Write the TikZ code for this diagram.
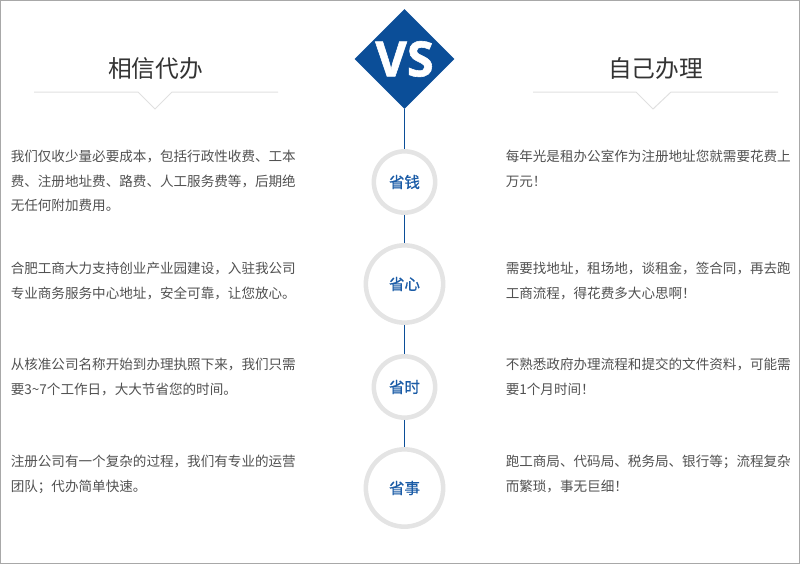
\documentclass[tikz,border=0pt]{standalone}
\usepackage{fontspec}
\setmainfont{Noto Sans CJK SC}
\newfontfamily\vsfont[BoldFeatures={FakeBold=1.2}]{Open Sans}
\newfontfamily\ringfont[FakeBold=0.6]{Noto Sans CJK SC}
\usetikzlibrary{shapes.geometric}
\definecolor{vsblue}{HTML}{0B4E98}
\definecolor{ringblue}{HTML}{1A5BA6}
\definecolor{ringgray}{HTML}{E4E4E4}
\definecolor{rulegray}{HTML}{E0E0E0}
\definecolor{framegray}{HTML}{A8A8A8}
\definecolor{bodygray}{HTML}{505050}
\definecolor{titlegray}{HTML}{333333}
\newcommand\ringtext[1]{\raisebox{-0.7pt}{#1}}
\tikzset{
  bodytext/.style={anchor=north west, inner sep=0pt, align=left, text=bodygray, font=\fontsize{10.18pt}{18.4pt}\selectfont},
  titletext/.style={inner sep=0pt, text=titlegray, font=\fontsize{17.8pt}{22pt}\selectfont},
  smallring/.style={circle, draw=ringgray, line width=3.4pt, minimum size=46pt, inner sep=0pt, text=ringblue, font=\ringfont\fontsize{11.6pt}{14pt}\selectfont},
  bigring/.style={smallring, minimum size=58pt},
  vsline/.style={vsblue, line width=0.9pt},
  titlerule/.style={rulegray, line width=0.75pt}
}

\begin{document}
\begin{tikzpicture}[x=0.75pt, y=-0.75pt]
\useasboundingbox (0,0) rectangle (800,564);
\draw[framegray, line width=0.75pt] (0.5,0.5) rectangle (799.5,563.5);

\node[diamond, fill=vsblue, minimum size=75pt, aspect=1, inner sep=0pt, text=white, font=\vsfont\fontsize{36.5pt}{37pt}\selectfont\bfseries] (vs) at (404.5,59) {\raisebox{-0.8pt}{VS}};
\node[smallring] (qian) at (404.5,182) {\ringtext{省钱}};
\node[bigring] (xin) at (404.5,284) {\ringtext{省心}};
\node[smallring] (shi) at (404.5,387) {\ringtext{省时}};
\node[bigring] (shiqing) at (404.5,488) {\ringtext{省事}};

\draw[vsline] (vs) -- (qian);
\draw[vsline] (qian) -- (xin);
\draw[vsline] (xin) -- (shi);
\draw[vsline] (shi) -- (shiqing);

\node[titletext] (xiangxin) at (155.5,69) {相信代办};
\node[titletext] (ziji) at (655.5,69) {自己办理};
\draw[titlerule] (34,92) -- (138,92) -- (155,109) -- (172,92) -- (278,92);
\draw[titlerule] (533,92) -- (636,92) -- (653,109) -- (671,92) -- (778,92);

\node[bodytext] (l1) at (10.5,149.8) {我们仅收少量必要成本，包括行政性收费、工本\\费、注册地址费、路费、人工服务费等，后期绝\\无任何附加费用。};
\node[bodytext] (l2) at (10.5,261.8) {合肥工商大力支持创业产业园建设，入驻我公司\\专业商务服务中心地址，安全可靠，让您放心。};
\node[bodytext] (l3) at (10.5,357.8) {从核准公司名称开始到办理执照下来，我们只需\\要3\textasciitilde 7个工作日，大大节省您的时间。};
\node[bodytext] (l4) at (10.5,454.8) {注册公司有一个复杂的过程，我们有专业的运营\\团队；代办简单快速。};

\node[bodytext] (r1) at (505.5,149.8) {每年光是租办公室作为注册地址您就需要花费上\\万元！};
\node[bodytext] (r2) at (505.5,261.8) {需要找地址，租场地，谈租金，签合同，再去跑\\工商流程，得花费多大心思啊！};
\node[bodytext] (r3) at (505.5,357.8) {不熟悉政府办理流程和提交的文件资料，可能需\\要1个月时间！};
\node[bodytext] (r4) at (505.5,454.8) {跑工商局、代码局、税务局、银行等；流程复杂\\而繁琐，事无巨细！};
\end{tikzpicture}
\end{document}
